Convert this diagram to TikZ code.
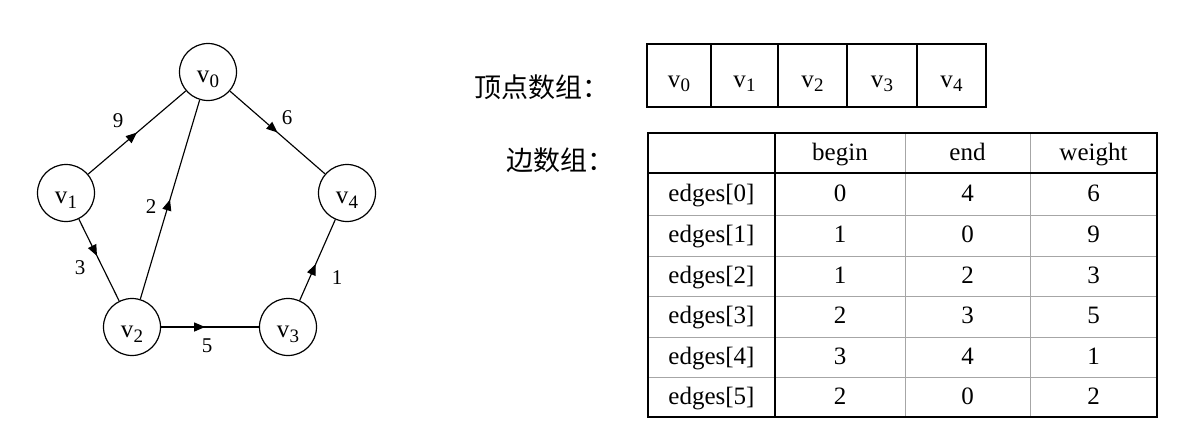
\documentclass[tikz,border=0pt]{standalone}
\usepackage{fontspec}
\setmainfont{Liberation Serif}
\newfontfamily\cjk{Noto Sans CJK SC}
\usetikzlibrary{arrows.meta,decorations.markings}
\newcommand\vx[1]{v\kern0.3pt\raisebox{-0.4ex}{\fontsize{19}{19}\selectfont #1}}
\begin{document}
\begin{tikzpicture}[x=1pt,y=-1pt,
  vnode/.style={circle,draw,line width=1.2pt,minimum size=57pt,inner sep=0pt,font=\fontsize{25}{25}\selectfont,text height=21pt,text depth=0pt},
  edge/.style={line width=1.15pt},
  midarrow/.style={postaction={decorate},decoration={markings,mark=at position #1 with {\arrow{Triangle[length=11pt,width=9pt]}}}},
  wlabel/.style={font=\fontsize{21}{21}\selectfont,inner sep=0pt},
  cjklabel/.style={font=\cjk\fontsize{27}{27}\selectfont,inner sep=0pt,anchor=west},
  cell/.style={font=\fontsize{25}{25}\selectfont,inner sep=0pt,text height=18pt,text depth=4pt},
  vcell/.style={cell,text height=22pt,text depth=0pt},
  tblouter/.style={line width=2.2pt},
  tblthin/.style={line width=0.9pt,gray!70},
  arrline/.style={line width=1.7pt}]
\useasboundingbox[fill=white] (0,0) rectangle (1200,440);
% graph
\node[vnode] (v0) at (208,72) {\vx0};
\node[vnode] (v1) at (66,193) {\vx1};
\node[vnode] (v2) at (132,327) {\vx2};
\node[vnode] (v3) at (288,327) {\vx3};
\node[vnode] (v4) at (347,193) {\vx4};
\draw[edge,midarrow=0.5] (v1) -- (v0);
\draw[edge,midarrow=0.5] (v0) -- (v4);
\draw[edge,midarrow=0.5] (v2) -- (v0);
\draw[edge,midarrow=0.45] (v1) -- (v2);
\draw[edge,midarrow=0.45] (v2) -- (v3);
\draw[edge,midarrow=0.45] (v3) -- (v4);
\node[wlabel] (w9) at (118,121) {9};
\node[wlabel] (w6) at (287,118) {6};
\node[wlabel] (w2) at (151,207) {2};
\node[wlabel] (w3) at (80,268) {3};
\node[wlabel] (w5) at (207,346) {5};
\node[wlabel] (w1) at (337,278) {1};
% labels
\node[cjklabel] (lvert) at (474,87) {顶点数组：};
\node[cjklabel] (ledge) at (506,160) {边数组：};
% vertex array
\draw[arrline] (647,44) rectangle (986,107);
\foreach \x in {711,778,847,917} \draw[arrline] (\x,44) -- (\x,107);
\node[vcell] (a0) at (679,76) {\vx0};
\node[vcell] (a1) at (744.5,76) {\vx1};
\node[vcell] (a2) at (812.5,76) {\vx2};
\node[vcell] (a3) at (882,76) {\vx3};
\node[vcell] (a4) at (951.5,76) {\vx4};
% edge table
\foreach \y in {215,256,296,337,377} \draw[tblthin] (648,\y) -- (1157,\y);
\foreach \x in {905,1030} \draw[tblthin] (\x,133) -- (\x,417);
\draw[tblouter] (648,173) -- (1157,173);
\draw[tblouter] (775,133) -- (775,417);
\draw[tblouter] (648,133) rectangle (1157,417);
\node[cell] (hb) at (840,153) {begin};
\node[cell] (he) at (967.5,153) {end};
\node[cell] (hw) at (1093.5,153) {weight};
\foreach \i/\b/\e/\w/\y in {0/0/4/6/194,1/1/0/9/235.5,2/1/2/3/276,3/2/3/5/316.5,4/3/4/1/357,5/2/0/2/397}{
  \node[cell] (r\i) at (711.5,\y) {edges[\i]};
  \node[cell] (b\i) at (840,\y) {\b};
  \node[cell] (e\i) at (967.5,\y) {\e};
  \node[cell] (w\i) at (1093.5,\y) {\w};
}
\end{tikzpicture}
\end{document}
